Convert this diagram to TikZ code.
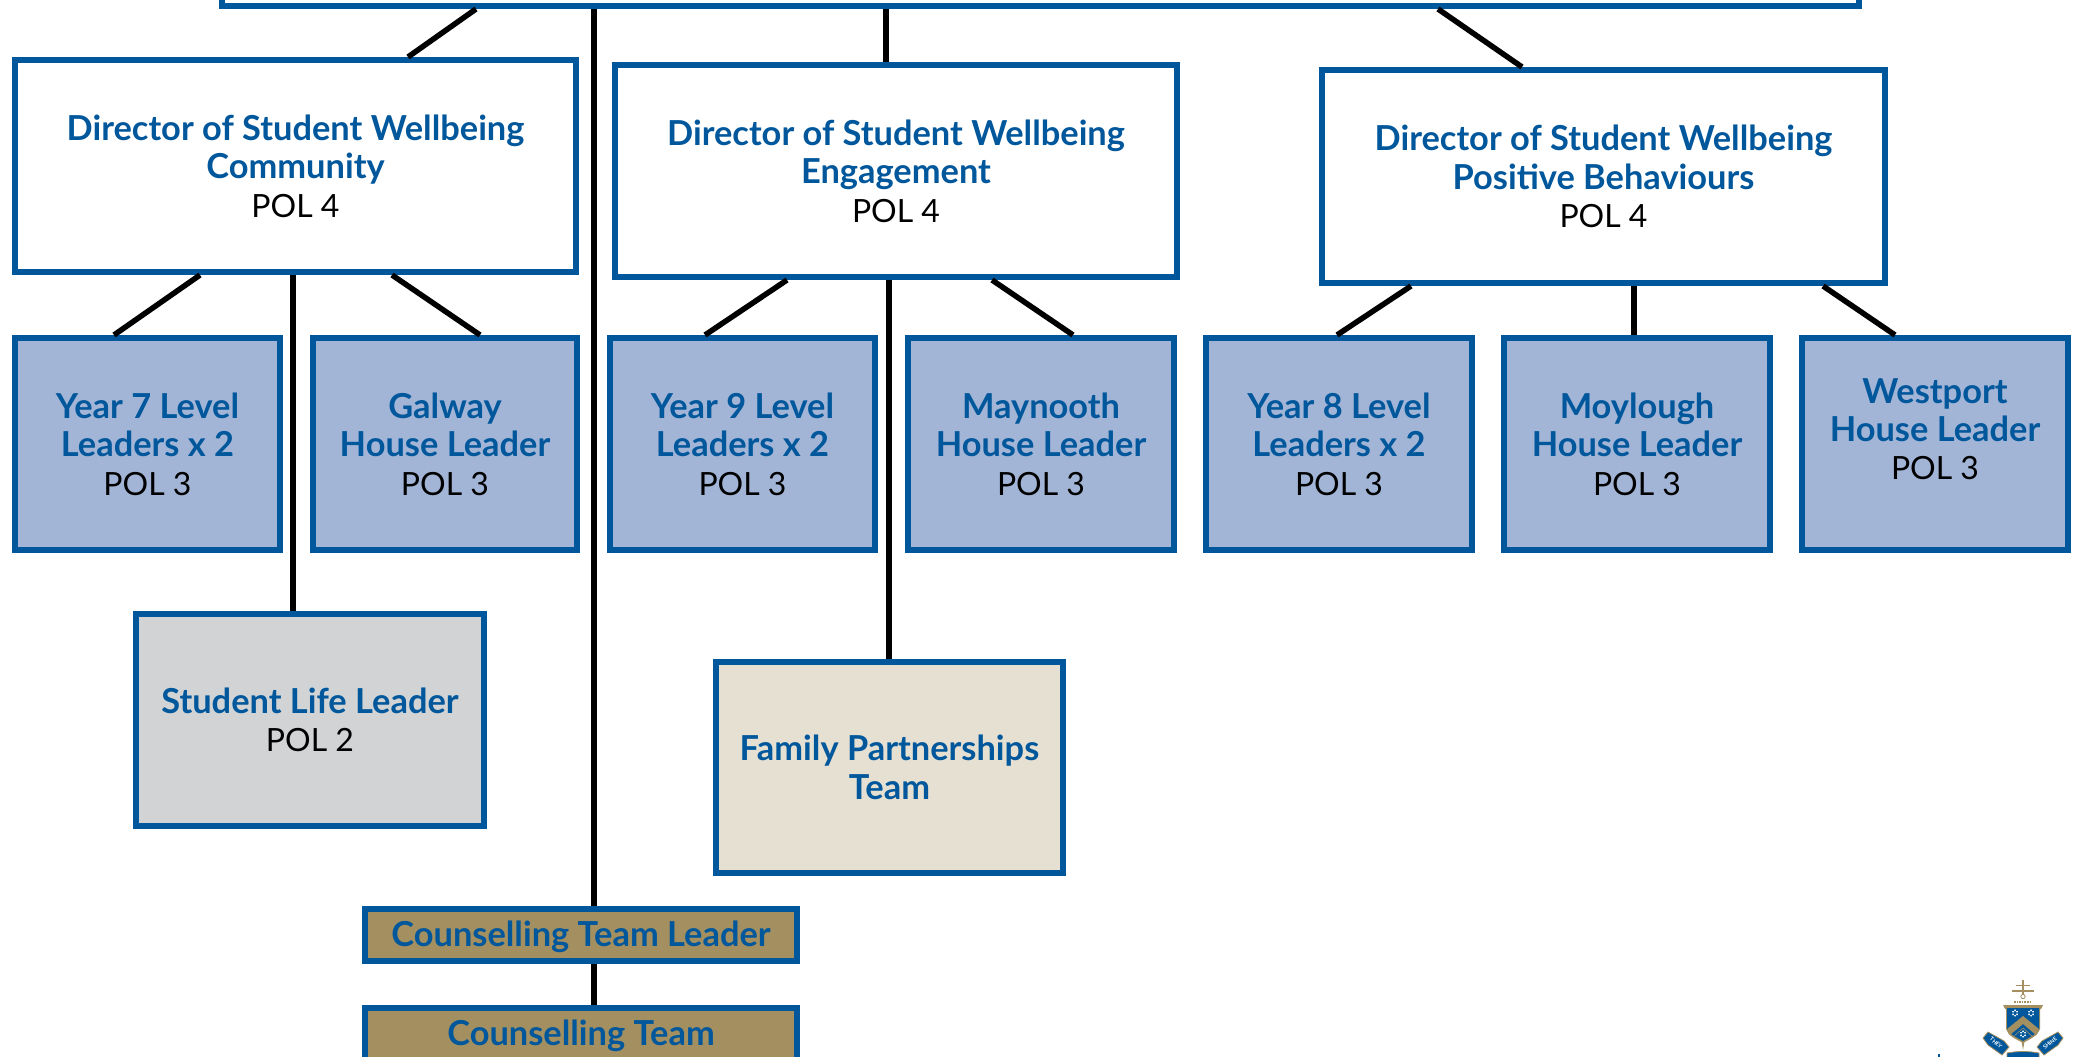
\documentclass[tikz,border=0pt]{standalone}
\usepackage{fontspec}
\setmainfont{Lato}
\definecolor{bblue}{HTML}{00579B}
\definecolor{rowfill}{HTML}{A3B5D6}
\definecolor{greyfill}{HTML}{D1D3D4}
\definecolor{creamfill}{HTML}{E6E0D2}
\definecolor{goldfill}{HTML}{A38F5F}
\newcommand{\ttl}[1]{{\fontsize{34.4}{38.4}\selectfont\bfseries\color{bblue}#1}}
\tikzset{
  box/.style={draw=bblue,line width=6pt,outer sep=3pt,inner sep=0pt,align=center,
    font=\fontsize{32}{38.4}\selectfont,text=black},
  conn/.style={draw=black,line width=5.5pt},
}
% outer-edge box: name, x0, y0, x1, y1, fill, text
\newcommand{\obox}[7]{%
  \pgfmathsetmacro{\bcx}{(#2+#4)/2}\pgfmathsetmacro{\bcy}{(#3+#5)/2}%
  \pgfmathsetmacro{\bwd}{#4-#2-6}\pgfmathsetmacro{\bht}{#5-#3-6}%
  \node[box,fill=#6,minimum width=\bwd pt,minimum height=\bht pt] (#1) at (\bcx,\bcy) {#7};}
\begin{document}
\begin{tikzpicture}[x=1pt,y=-1pt]
\useasboundingbox (0,0) rectangle (2074,1057);
\obox{top}{219}{-60}{1862}{9}{white}{}
\obox{ba}{12}{57}{579}{275}{white}{\ttl{Director of Student Wellbeing}\\\ttl{Community}\\POL 4}
\obox{bb}{612}{62}{1180}{280}{white}{\ttl{Director of Student Wellbeing}\\\ttl{Engagement}\\POL 4}
\obox{bc}{1319}{67}{1888}{286}{white}{\ttl{Director of Student Wellbeing}\\\ttl{Positive Behaviours}\\POL 4}
\obox{ra}{12}{335}{283}{553}{rowfill}{\ttl{Year 7 Level}\\\ttl{Leaders x 2}\\POL 3}
\obox{rb}{310}{335}{580}{553}{rowfill}{\ttl{Galway}\\\ttl{House Leader}\\POL 3}
\obox{rc}{607}{335}{878}{553}{rowfill}{\ttl{Year 9 Level}\\\ttl{Leaders x 2}\\POL 3}
\obox{rd}{905}{335}{1177}{553}{rowfill}{\ttl{Maynooth}\\\ttl{House Leader}\\POL 3}
\obox{re}{1203}{335}{1475}{553}{rowfill}{\ttl{Year 8 Level}\\\ttl{Leaders x 2}\\POL 3}
\obox{rf}{1501}{335}{1773}{553}{rowfill}{\ttl{Moylough}\\\ttl{House Leader}\\POL 3}
\obox{rg}{1799}{335}{2071}{553}{rowfill}{\ttl{Westport}\\\ttl{House Leader}\\POL 3\\[-8.4pt]\mbox{}}
\obox{sl}{133}{611}{487}{829}{greyfill}{\ttl{Student Life Leader}\\POL 2}
\obox{fp}{713}{659}{1066}{876}{creamfill}{\ttl{Family Partnerships}\\\ttl{Team}}
\obox{cl}{362}{906}{800}{964}{goldfill}{\raisebox{-11.5pt}[0pt][0pt]{\ttl{Counselling Team Leader}}}
\obox{ct}{362}{1005}{800}{1063}{goldfill}{\raisebox{-11.5pt}[0pt][0pt]{\ttl{Counselling Team}}}
% connectors: offsets from the west corners of the named boxes
\newcommand{\lnk}[4]{\draw[conn] ([xshift=#2pt]#1.south west) -- ([xshift=#4pt]#3.north west);}
\lnk{top}{257}{ba}{396}
\lnk{top}{375}{cl}{232}
\lnk{top}{667}{bb}{274}
\lnk{top}{1219}{bc}{203}
\lnk{ba}{188}{ra}{102}
\lnk{ba}{281}{sl}{160}
\lnk{ba}{380}{rb}{170}
\lnk{bb}{175}{rc}{98}
\lnk{bb}{277}{fp}{176}
\lnk{bb}{380}{rd}{168}
\lnk{bc}{92}{re}{134}
\lnk{bc}{315}{rf}{133}
\lnk{bc}{504}{rg}{96}
\lnk{cl}{232}{ct}{232}
% crest
\fill[bblue] (1938,1054) rectangle (1940,1057);
\draw[goldfill,line width=1.6pt] (2023,980) -- (2023,994) (2012,991) -- (2034,991) (2016,985.5) -- (2030,985.5);
\draw[goldfill,line width=.8pt] (2023,996.5) circle (2.2);
\draw[goldfill,line width=1.6pt,densely dotted] (2014,1002) -- (2032,1002);
% ribbons
\fill[bblue,draw=goldfill,line width=.8pt] (1988,1032) -- (1983,1038) -- (1988,1045) -- (2002,1055) -- (2009,1047) -- (2004,1041) -- cycle;
\fill[bblue,draw=goldfill,line width=.8pt] (2058,1032) -- (2063,1038) -- (2058,1045) -- (2044,1055) -- (2037,1047) -- (2042,1041) -- cycle;
\fill[bblue,draw=goldfill,line width=.8pt] (2007,1053) .. controls (2018,1051) and (2028,1051) .. (2039,1053) -- (2039,1060) -- (2007,1060) -- cycle;
% shield
\fill[goldfill] (2003,1005) -- (2043,1005) -- (2041,1009) -- (2040,1009) -- (2040,1029) .. controls (2038,1036) and (2030,1039) .. (2023,1043) .. controls (2016,1039) and (2008,1036) .. (2006,1029) -- (2006,1009) -- (2005,1009) -- cycle;
\fill[bblue] (2007,1008) -- (2039,1008) -- (2039,1029) .. controls (2037,1034) and (2030,1037) .. (2023,1041) .. controls (2016,1037) and (2009,1034) .. (2007,1029) -- cycle;
\fill[goldfill] (2023,1016) -- (2039,1029) -- (2036,1035) -- (2023,1024) -- (2010,1035) -- (2007,1029) -- cycle;
\draw[goldfill,line width=.6pt] (2013,1037) -- (2023,1028) -- (2033,1037);
\fill[goldfill] (2021.5,1041) -- (2024.5,1041) -- (2023,1050) -- cycle;
\fill[white] (2015,1009) -- (2018,1015) -- (2012,1015) -- cycle (2015,1017) -- (2018,1011) -- (2012,1011) -- cycle;
\fill[white] (2031,1009) -- (2034,1015) -- (2028,1015) -- cycle (2031,1017) -- (2034,1011) -- (2028,1011) -- cycle;
\fill[white] (2023,1030) -- (2026,1036) -- (2020,1036) -- cycle (2023,1038) -- (2026,1032) -- (2020,1032) -- cycle;
\node[text=white,inner sep=0pt,rotate=-40,font=\bfseries\fontsize{5.5}{5.5}\selectfont] (mta) at (1996,1043) {THEY};
\node[text=white,inner sep=0pt,rotate=40,font=\bfseries\fontsize{5.5}{5.5}\selectfont] (mtb) at (2050,1043) {SHINE};
\end{tikzpicture}
\end{document}
